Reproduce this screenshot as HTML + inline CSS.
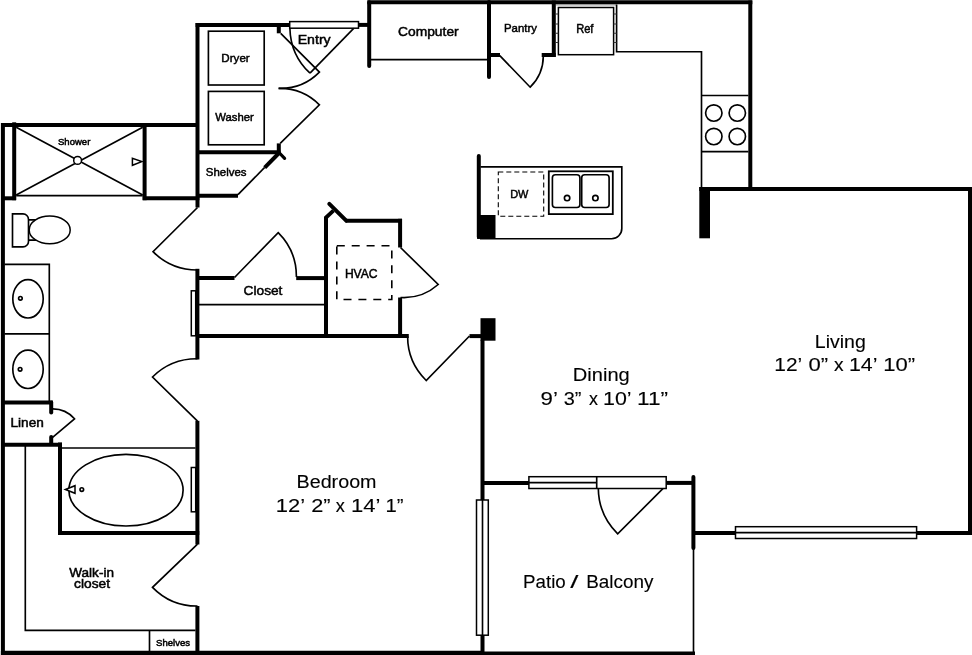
<!DOCTYPE html>
<html><head><meta charset="utf-8">
<style>
html,body{margin:0;padding:0;background:#fff;}
body{width:972px;height:655px;overflow:hidden;font-family:"Liberation Sans",sans-serif;}
svg{display:block;}
.w{stroke:#000;stroke-width:4;fill:none;stroke-linecap:butt;}
.wr{stroke:#000;stroke-width:4;fill:none;stroke-linecap:round;}
.t{stroke:#000;stroke-width:1.65;fill:none;}
.tw{stroke:#000;stroke-width:1.5;fill:#fff;}
.d{stroke:#000;stroke-width:1.5;fill:none;}
.k{fill:#000;}
text{font-family:"Liberation Sans",sans-serif;fill:#000;stroke:#000;}
</style></head><body>
<svg width="972" height="655" viewBox="0 0 972 655">
<rect width="972" height="655" fill="#fff"/>

<!-- ===== WALLS ===== -->
<g id="walls">
<!-- kitchen top -->
<path class="w" d="M367.3 2.3H752.3"/>
<path class="wr" d="M369.2 2.3V66"/>
<path class="w" d="M750.3 0.5V189"/>
<!-- entry -->
<path class="w" d="M358.5 24.9H369"/>
<!-- laundry -->
<path class="w" d="M195.6 24.9H290"/>
<path class="w" d="M278.8 23V33.3"/>
<path class="w" d="M197.5 23V207.5"/>
<path class="w" d="M197 152.2H280.4"/>
<path class="w" d="M278.8 143.4V154"/>
<path class="w" d="M279.5 152.5L264.7 167.6"/>
<path d="M278.5 152L284.6 158.4" stroke="#000" stroke-width="3.2" fill="none" stroke-linecap="round"/>
<path class="w" d="M197 195.8H238"/>
<!-- shower -->
<path class="w" d="M1.2 125H197"/>
<path class="w" d="M2.9 123.1V655"/>
<path class="w" d="M14.2 122.3V200.2"/>
<path class="w" d="M4 198.3H16.1"/>
<path class="w" d="M144.6 127V200.2"/>
<path class="w" d="M142.7 198.3H199.4"/>
<!-- bath/bedroom wall -->
<path class="w" d="M197.4 268.8V359.5"/>
<path class="w" d="M197.4 420.8V544.5"/>
<path class="w" d="M197.4 606V655"/>
<!-- closet top -->
<path class="w" d="M197.5 278.1H234.5"/>
<path class="w" d="M296.2 278.1H326"/>
<!-- hvac -->
<path class="w" d="M326 337.5V217.5L333.4 210.6" stroke-linejoin="miter"/>
<path class="wr" d="M329.3 203.8L346.2 220.7"/>
<path class="w" d="M345.5 220.7H402"/>
<path class="w" d="M400.1 218.8V247.5"/>
<path class="w" d="M400.1 297.5V338"/>
<!-- bedroom top -->
<path class="w" d="M197.5 336.1H408.8"/>
<path class="w" d="M469.5 336.1H482"/>
<rect class="k" x="480.5" y="318.2" width="15" height="22.5"/>
<path class="w" d="M482.5 340V655"/>
<!-- patio -->
<path class="w" d="M484 482.9H529"/>
<path class="w" d="M666 482.9H695"/>
<path class="wr" d="M693.4 477V548"/>
<path class="t" d="M693.5 548V652"/>
<!-- living -->
<path class="w" d="M693 532.9H735.5"/>
<path class="w" d="M916.6 532.9H972"/>
<path class="w" d="M970 187V535"/>
<path class="w" d="M699.3 188.9H972"/>
<rect class="k" x="699.3" y="187" width="10.7" height="51.3"/>
<!-- pantry -->
<path class="wr" d="M489 2V77"/>
<path class="w" d="M489 55H500"/>
<path class="w" d="M553.8 0.5V56.9"/>
<path class="w" d="M541.7 55H555.7"/>
<!-- island -->
<path class="wr" d="M478.8 156V237"/>
<rect class="k" x="477" y="215" width="18.5" height="23.8"/>
<!-- bottom -->
<path d="M0.9 653H484" stroke="#000" stroke-width="4.4" fill="none"/>
<path d="M484 653.2H695" stroke="#000" stroke-width="3.6" fill="none"/>
<!-- linen -->
<path class="w" d="M4 402.4H53"/>
<path class="wr" d="M51.2 402.4V412.5"/>
<path class="wr" d="M51.2 437V444"/>
<path class="w" d="M4 444.7H62"/>
<!-- tub -->
<path class="w" d="M60 442.5V535"/>
<path class="w" d="M58.1 533.1H199.3"/>
</g>

<!-- ===== THIN ===== -->
<g id="thin">
<!-- dryer washer -->
<rect class="t" x="208.4" y="31.2" width="55.8" height="53.8"/>
<rect class="t" x="208.4" y="91.4" width="55.8" height="53.4"/>
<!-- shelves diag -->
<path class="t" d="M264.7 167.4L238 194.7"/>
<!-- shower -->
<path class="t" stroke-width="0.95" d="M16.2 127.3L142.7 195M16.2 195L142.7 127.3"/><path class="t" stroke-width="1.15" d="M16.2 195.6H142.7"/>
<circle class="tw" cx="77.6" cy="160.4" r="3.9" stroke-width="1.05"/>
<path class="tw" d="M132.4 158.3V165.3L141.8 161.6Z" stroke-width="1.1"/>
<!-- computer -->
<path class="t" d="M371 59.6H487.2"/>
<!-- ref -->
<rect class="d" x="558.4" y="7.5" width="55.2" height="47.2"/>
<path d="M555.9 4.9H616.6" stroke="#777" stroke-width="0.9" fill="none"/><path class="t" stroke-width="1.45" d="M616.6 4.5V51.7H701.5V187.5"/>
<path d="M556 14H558.4M556 24H558.4M556 33.3H558.4M556 42.5H558.4M613.6 14H616.6M613.6 24H616.6M613.6 33.3H616.6M613.6 42.5H616.6" stroke="#333" stroke-width="1.1" fill="none"/>
<!-- stove -->
<path class="t" stroke-width="1.25" d="M701.5 95.5H748.4M701.5 151.6H748.4"/>
<circle class="t" stroke-width="1.15" cx="713.8" cy="113" r="8.2"/>
<circle class="t" stroke-width="1.15" cx="737.3" cy="113" r="8.2"/>
<circle class="t" stroke-width="1.15" cx="713.8" cy="136.5" r="8.2"/>
<circle class="t" stroke-width="1.15" cx="737.3" cy="136.5" r="8.2"/>
<!-- island counter -->
<path class="t" d="M480.5 166.8H621.8V228.5A10.2 10.2 0 0 1 611.6 238.7H480"/>
<rect x="498.3" y="172" width="45.4" height="44.2" fill="none" stroke="#000" stroke-width="1.1" stroke-dasharray="5 3"/>
<rect x="548.8" y="171.3" width="64" height="42.8" fill="none" stroke="#000" stroke-width="1.8"/>
<rect class="t" stroke-width="1.3" x="552.4" y="174.7" width="27.5" height="32.8" rx="3"/>
<rect class="t" stroke-width="1.3" x="581.7" y="174.7" width="27.4" height="32.8" rx="3"/>
<circle class="t" stroke-width="1.2" cx="567.1" cy="198" r="2.7"/>
<circle class="t" stroke-width="1.2" cx="595.4" cy="198" r="2.7"/>
</g>

<!-- ===== DOORS ===== -->
<g id="doors">
<!-- entry -->
<rect class="tw" x="289.7" y="21.6" width="68.8" height="6.6" stroke-width="1.2"/>
<path class="t" d="M353.7 28.4L310 73.2"/>
<path class="t" d="M289.9 28.4A63.5 63.5 0 0 0 310 73.2"/>
<!-- laundry bifold -->
<path class="t" d="M280.7 33.3L319.4 72.1A55 55 0 0 1 278.6 88.4"/>
<path class="t" d="M280.2 143.4L319.4 104.8A56 56 0 0 0 278.6 88.4"/>
<!-- bath door -->
<path class="t" d="M197.5 207.5L153 251.7A62.6 62.6 0 0 0 197.5 270"/>
<!-- closet door -->
<path class="t" d="M234.5 277.5L278.2 232.6A62 62 0 0 1 296.4 277"/>
<!-- hvac door -->
<path class="t" d="M400.5 247.5L438.2 284.5A52 52 0 0 1 400.5 297.5"/>
<!-- bedroom door -->
<path class="t" d="M469.5 336L426.2 380.5A62 62 0 0 1 407.6 336.3"/>
<!-- pantry door -->
<path class="t" d="M499.8 55.6L530.2 87.2A43.6 43.6 0 0 0 543.3 56.3"/>
<!-- bed->bath door -->
<path class="t" d="M197.5 421.2L152.5 377A63 63 0 0 1 197.5 358.8"/>
<!-- walk-in door -->
<path class="t" d="M197.5 544.2L152.5 587.3A62 62 0 0 0 197.5 606"/>
<!-- linen door -->
<path class="t" d="M52 437.8L74.5 418.8A29 29 0 0 0 52 408.9"/>
<!-- patio door -->
<path class="t" d="M663.4 488.2L617.7 533.8A65 65 0 0 1 598.3 488.2"/>
</g>

<!-- ===== FIXTURES ===== -->
<g id="fixtures">
<!-- toilet -->
<path class="t" stroke-width="1.55" d="M12.5 213.9H23A5.5 5.5 0 0 1 28.5 219.4V241.4A5.5 5.5 0 0 1 23 246.9H12.5Z"/>
<path class="t" stroke-width="1.4" d="M28.5 219.8H36M28.5 240.1H36"/>
<ellipse class="tw" stroke-width="1.55" cx="49.7" cy="229.9" rx="20.5" ry="13.8"/>
<!-- vanity -->
<path class="t" stroke-width="1.3" d="M4.5 264.3H49.3V401M4.5 333.8H49.3"/>
<ellipse class="t" cx="28" cy="298.8" rx="15.2" ry="19.2"/>
<ellipse class="t" cx="28" cy="369.3" rx="15.2" ry="19.2"/>
<circle class="t" cx="20.4" cy="298.3" r="1.8"/>
<circle class="t" cx="20.1" cy="369.3" r="1.8"/>
<!-- closet -->
<path class="t" d="M199 304.6H324.5"/>
<rect class="tw" x="191.3" y="290.8" width="4.4" height="45"/>
<!-- hvac -->
<rect x="336.8" y="245.8" width="55" height="53.7" fill="none" stroke="#000" stroke-width="1.6" stroke-dasharray="8 6.9"/>
<!-- tub -->
<path class="t" stroke-width="1.3" d="M62 448H195.5"/>
<ellipse class="t" stroke-width="1.5" cx="126" cy="490.2" rx="57.1" ry="35.8"/>
<circle class="t" cx="81.8" cy="489.5" r="1.8"/>
<path class="tw" d="M65.4 489.5L75 485.7V493.3Z" stroke-width="1.1"/>
<rect class="tw" x="191.3" y="467.5" width="4.4" height="44.3"/>
<!-- walk-in shelves -->
<path class="t" stroke-width="1.5" d="M25.3 446V630.3H195.5M149.5 630.3V651"/>
<!-- bedroom window -->
<rect class="tw" x="476.5" y="500" width="11.8" height="135.2"/>
<path class="t" d="M482.5 500V635.2" stroke-width="1.4"/>
<!-- patio door frame -->
<rect class="tw" x="528.9" y="476.7" width="137.3" height="11.8"/>
<path class="t" d="M528.9 482.6H596.7M596.7 476.7V488.5"/>
<!-- living window -->
<rect class="tw" x="735.5" y="526.7" width="181.1" height="11.8"/>
<path class="t" d="M735.5 532.6H916.6"/>
</g>

<!-- ===== TEXT ===== -->
<g id="text" style="will-change:transform;transform:translateZ(0)">
<text x="814.85" y="347.6" font-size="18.3" textLength="50.96" lengthAdjust="spacingAndGlyphs" stroke-width="0.12">Living</text>
<text x="774.27" y="370.7" font-size="18.3" textLength="27.87" lengthAdjust="spacingAndGlyphs" stroke-width="0.12">12’</text>
<text x="808.47" y="370.7" font-size="18.3" textLength="19.61" lengthAdjust="spacingAndGlyphs" stroke-width="0.12">0”</text>
<text x="834.11" y="370.7" font-size="18.3" textLength="9.6" lengthAdjust="spacingAndGlyphs" stroke-width="0.12">x</text>
<text x="849.03" y="370.7" font-size="18.3" textLength="28.47" lengthAdjust="spacingAndGlyphs" stroke-width="0.12">14’</text>
<text x="883.24" y="370.7" font-size="18.3" textLength="31.83" lengthAdjust="spacingAndGlyphs" stroke-width="0.12">10”</text>
<text x="572.86" y="381.2" font-size="18.3" textLength="56.89" lengthAdjust="spacingAndGlyphs" stroke-width="0.12">Dining</text>
<text x="540.59" y="405.2" font-size="18.3" textLength="17.34" lengthAdjust="spacingAndGlyphs" stroke-width="0.12">9’</text>
<text x="563.73" y="405.2" font-size="18.3" textLength="17.71" lengthAdjust="spacingAndGlyphs" stroke-width="0.12">3”</text>
<text x="589.11" y="405.2" font-size="18.3" textLength="8.95" lengthAdjust="spacingAndGlyphs" stroke-width="0.12">x</text>
<text x="602.99" y="405.2" font-size="18.3" textLength="28.56" lengthAdjust="spacingAndGlyphs" stroke-width="0.12">10’</text>
<text x="637.1" y="405.2" font-size="18.3" textLength="30.98" lengthAdjust="spacingAndGlyphs" stroke-width="0.12">11”</text>
<text x="296.54" y="487.5" font-size="18.3" textLength="80.0" lengthAdjust="spacingAndGlyphs" stroke-width="0.12">Bedroom</text>
<text x="275.85" y="511.7" font-size="18.3" textLength="29.23" lengthAdjust="spacingAndGlyphs" stroke-width="0.12">12’</text>
<text x="311.21" y="511.7" font-size="18.3" textLength="19.31" lengthAdjust="spacingAndGlyphs" stroke-width="0.12">2”</text>
<text x="335.84" y="511.7" font-size="18.3" textLength="9.09" lengthAdjust="spacingAndGlyphs" stroke-width="0.12">x</text>
<text x="350.96" y="511.7" font-size="18.3" textLength="29.43" lengthAdjust="spacingAndGlyphs" stroke-width="0.12">14’</text>
<text x="385.61" y="511.7" font-size="18.3" textLength="17.97" lengthAdjust="spacingAndGlyphs" stroke-width="0.12">1”</text>
<text x="523.06" y="588.3" font-size="18.3" textLength="42.69" lengthAdjust="spacingAndGlyphs" stroke-width="0.12">Patio</text>
<text x="570.15" y="588.3" font-size="18.3" textLength="8.17" lengthAdjust="spacingAndGlyphs" stroke-width="0.12">/</text>
<text x="586.23" y="588.3" font-size="18.3" textLength="67.18" lengthAdjust="spacingAndGlyphs" stroke-width="0.12">Balcony</text>
<text x="221.37" y="61.7" font-size="11.8" textLength="28.33" lengthAdjust="spacingAndGlyphs" stroke-width="0.5">Dryer</text>
<text x="215.2" y="120.8" font-size="11.8" textLength="38.55" lengthAdjust="spacingAndGlyphs" stroke-width="0.5">Washer</text>
<text x="205.77" y="175.7" font-size="11.8" textLength="40.73" lengthAdjust="spacingAndGlyphs" stroke-width="0.5">Shelves</text>
<text x="58.0" y="144.7" font-size="9.3" textLength="32.31" lengthAdjust="spacingAndGlyphs" stroke-width="0.5">Shower</text>
<text x="398.02" y="35.9" font-size="13.5" textLength="60.65" lengthAdjust="spacingAndGlyphs" stroke-width="0.5">Computer</text>
<text x="503.97" y="31.9" font-size="11.8" textLength="32.95" lengthAdjust="spacingAndGlyphs" stroke-width="0.5">Pantry</text>
<text x="576.14" y="33.0" font-size="12.8" textLength="17.32" lengthAdjust="spacingAndGlyphs" stroke-width="0.5">Ref</text>
<text x="10.51" y="427.4" font-size="12.8" textLength="33.3" lengthAdjust="spacingAndGlyphs" stroke-width="0.5">Linen</text>
<text x="69.29" y="576.7" font-size="12.8" textLength="44.67" lengthAdjust="spacingAndGlyphs" stroke-width="0.5">Walk-in</text>
<text x="74.13" y="588.3" font-size="12.8" textLength="35.95" lengthAdjust="spacingAndGlyphs" stroke-width="0.5">closet</text>
<text x="156.06" y="645.9" font-size="9.5" textLength="34.02" lengthAdjust="spacingAndGlyphs" stroke-width="0.5">Shelves</text>
<text x="297.71" y="44.3" font-size="13.5" textLength="32.95" lengthAdjust="spacingAndGlyphs" stroke-width="0.5">Entry</text>
<text x="510.2" y="198.0" font-size="11.8" textLength="18.21" lengthAdjust="spacingAndGlyphs" stroke-width="0.5">DW</text>
<text x="344.88" y="277.6" font-size="12.8" textLength="32.74" lengthAdjust="spacingAndGlyphs" stroke-width="0.5">HVAC</text>
<text x="243.56" y="294.8" font-size="13.5" textLength="38.89" lengthAdjust="spacingAndGlyphs" stroke-width="0.5">Closet</text>
</g>
</svg>
</body></html>
